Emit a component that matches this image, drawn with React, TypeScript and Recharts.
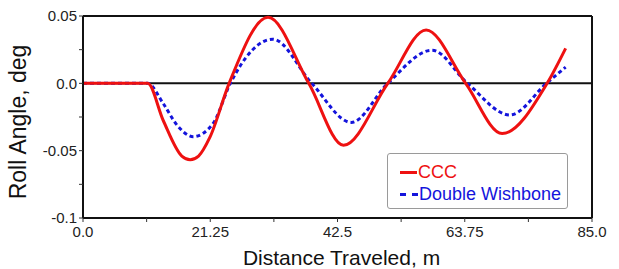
import React from "react";
import {
  LineChart,
  Line,
  XAxis,
  YAxis,
  ReferenceLine,
  Legend,
  Label,
} from "recharts";

// distance (m) / roll angle (deg)
const cccDistance = [0, 5, 10.8, 13.4, 16.5, 17.9, 19.3, 21.2, 24.4, 30.9, 37.7, 43.5, 50.9, 57.3, 63.9, 70, 77.5, 80.6];
const cccRoll = [0, 0, 0, -0.0276, -0.054, -0.0567, -0.054, -0.04, 0, 0.049, 0, -0.046, 0, 0.0396, 0, -0.0373, 0, 0.026];

const dwDistance = [0, 5, 10.8, 13.4, 15.7, 18.4, 21.7, 24.6, 31.7, 38.2, 44.8, 50.9, 58.3, 64.2, 71.3, 77.4, 80.6];
const dwRoll = [0, 0, 0, -0.015, -0.031, -0.0396, -0.03, 0, 0.0328, 0, -0.029, 0, 0.0246, 0, -0.0235, 0, 0.012];

const xTicks = [0, 10.625, 21.25, 31.875, 42.5, 53.125, 63.75, 74.375, 85];
const xLabels: Record<number, string> = { 0: "0.0", 21.25: "21.25", 42.5: "42.5", 63.75: "63.75", 85: "85.0" };
const yTicks = [-0.1, -0.075, -0.05, -0.025, 0, 0.025, 0.05];
const yLabels: Record<string, string> = { "-0.1": "-0.1", "-0.05": "-0.05", "0": "0.0", "0.05": "0.05" };

const cccData = cccDistance.map((x, i) => ({ x, y: cccRoll[i] }));
const dwData = dwDistance.map((x, i) => ({ x, y: dwRoll[i] }));

const RED = "#ee1111";
const BLUE = "#1414dc";
const FONT = "'Liberation Sans', Arial, sans-serif";

function LegendBox() {
  return (
    <div
      style={{
        width: 181,
        height: 56,
        boxSizing: "border-box",
        border: "1px solid #9a9a9a",
        borderRadius: 3,
        background: "#fff",
        fontFamily: FONT,
        fontSize: 18,
        paddingTop: 7,
        paddingLeft: 12,
        lineHeight: "22px",
        textAlign: "left",
      }}
    >
      <div style={{ display: "flex", alignItems: "center", color: RED }}>
        <span style={{ display: "inline-block", width: 17, borderTop: `3px solid ${RED}`, marginRight: 1 }} />
        CCC
      </div>
      <div style={{ display: "flex", alignItems: "center", color: BLUE }}>
        <span style={{ display: "inline-block", width: 18, borderTop: `3px dashed ${BLUE}`, marginRight: 1 }} />
        Double Wishbone
      </div>
    </div>
  );
}

export default function App() {
  return (
    <div style={{ position: "absolute", left: 0, top: 0, background: "#fff" }}>
      <LineChart width={619} height={269} margin={{ top: 16, right: 27, left: 0, bottom: 0 }}>
        <XAxis
          type="number"
          dataKey="x"
          domain={[0, 85]}
          ticks={xTicks}
          tickFormatter={(v) => xLabels[v] ?? ""}
          height={51}
          tickSize={4}
          tickMargin={4}
          axisLine={{ stroke: "#111", strokeWidth: 2 }}
          tickLine={{ stroke: "#333" }}
          tick={{ fill: "#222", fontSize: 15, fontFamily: FONT }}
          interval={0}
        >
          <Label
            value="Distance Traveled, m"
            position="insideBottom"
            offset={4}
            dx={4}
            style={{ fontSize: 21, fontFamily: FONT, fill: "#111" }}
          />
        </XAxis>
        <YAxis
          type="number"
          dataKey="y"
          domain={[-0.1, 0.05]}
          ticks={yTicks}
          tickFormatter={(v) => yLabels[String(v)] ?? ""}
          width={83}
          tickSize={4}
          tickMargin={2}
          axisLine={{ stroke: "#111", strokeWidth: 2 }}
          tickLine={{ stroke: "#333" }}
          tick={{ fill: "#222", fontSize: 15, fontFamily: FONT }}
          interval={0}
        >
          <Label
            content={() => (
              <text
                transform="translate(18,122) rotate(-90)"
                textAnchor="middle"
                dominantBaseline="central"
                style={{ fontSize: 23, fontFamily: FONT, fill: "#111" }}
              >
                Roll Angle, deg
              </text>
            )}
          />
        </YAxis>
        <ReferenceLine y={0.05} stroke="#111" strokeWidth={2} />
        <ReferenceLine x={85} stroke="#111" strokeWidth={2} />
        <ReferenceLine y={0} stroke="#111" strokeWidth={2} />
        <Line
          data={dwData}
          dataKey="y"
          type="monotone"
          stroke={BLUE}
          strokeWidth={3}
          strokeDasharray="4 3"
          dot={false}
          isAnimationActive={false}
        />
        <Line
          data={cccData}
          dataKey="y"
          type="monotone"
          stroke={RED}
          strokeWidth={3}
          dot={false}
          isAnimationActive={false}
        />
        <Legend
          layout="horizontal"
          verticalAlign="middle"
          align="center"
          content={() => <LegendBox />}
          wrapperStyle={{ left: 387, top: 153, width: 181, height: 56, bottom: "auto", right: "auto" }}
        />
      </LineChart>
    </div>
  );
}
